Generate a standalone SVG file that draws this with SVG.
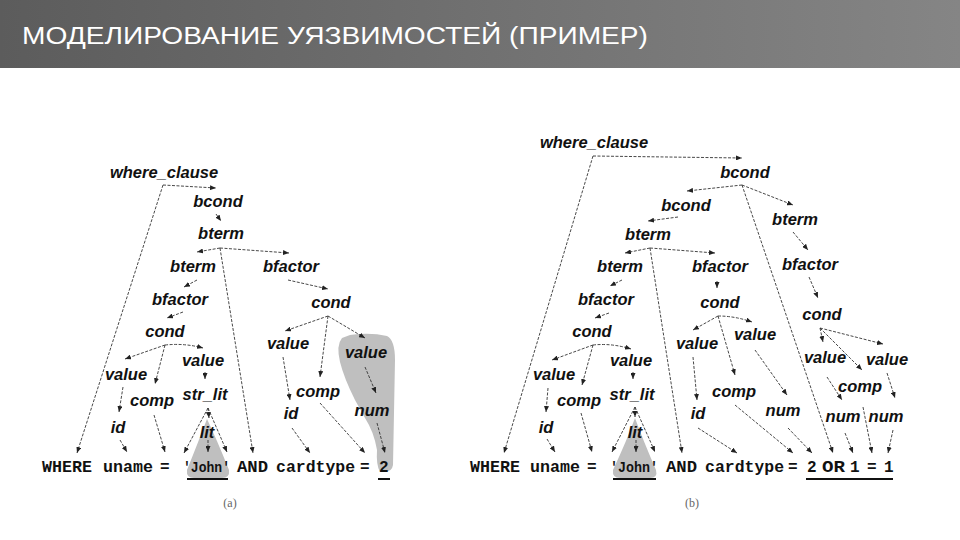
<svg xmlns="http://www.w3.org/2000/svg" width="960" height="540" viewBox="0 0 960 540">
<defs>
<linearGradient id="hdr" x1="0" y1="0" x2="1" y2="0">
<stop offset="0" stop-color="#5c5c5c"/>
<stop offset="1" stop-color="#858585"/>
</linearGradient>
<marker id="ah" markerUnits="userSpaceOnUse" markerWidth="6" markerHeight="5" refX="6" refY="2.5" orient="auto">
<path d="M0,0 L6,2.5 L0,5 z" fill="#222"/>
</marker>
<style>
.t{font-family:"Liberation Sans",Arial,sans-serif;font-weight:bold;font-style:italic;font-size:16.5px;fill:#111;text-anchor:middle}
.s{font-family:"Liberation Mono","Courier New",monospace;font-weight:bold;font-size:16px;fill:#111}
.j{font-family:"Liberation Mono","Courier New",monospace;font-weight:bold;font-size:15.5px;fill:#111}
.c{fill:none;stroke:#333;stroke-width:0.9;stroke-dasharray:3 1.5;marker-end:url(#ah)}
.u{stroke:#111;stroke-width:2}
.sh{fill:#bfbfbf}
.cap{font-family:"Liberation Serif","Times New Roman",serif;font-size:12px;fill:#666;text-anchor:middle}
</style>
</defs>
<rect width="960" height="540" fill="#fff"/>
<rect width="960" height="68" fill="url(#hdr)"/>
<text x="22" y="44" font-family="Liberation Sans, Arial, sans-serif" font-size="23" fill="#fff" textLength="626" lengthAdjust="spacingAndGlyphs">МОДЕЛИРОВАНИЕ УЯЗВИМОСТЕЙ (ПРИМЕР)</text>

<!-- shaded regions -->
<g id="shade">
<path class="sh" d="M207,419 Q199,440 187,470 Q186,478 194,478 L222,478 Q230,478 229,470 Q217,440 207,419 z"/>
<path class="sh" d="M350,335 Q370,332 387,336 Q395,340 395,360 L393,465 Q392,472 384,472 L380,472 Q376,465 377,450 Q374,432 365,418 L355,400 Q344,378 340,362 Q336,345 342,338 z"/>
<path class="sh" d="M635,418 Q627,440 613,470 Q612,478 620,478 L650,478 Q658,478 656,470 Q643,440 635,418 z"/>
</g>

<!-- connectors -->
<g id="connectors">
<!-- tree a -->
<path class="c" d="M163,185 L216,188"/>
<path class="c" d="M163,185 L77,453"/>
<path class="c" d="M216,214 L221,221"/>
<path class="c" d="M220,248 L197,252"/>
<path class="c" d="M220,248 L289,253"/>
<path class="c" d="M220,248 L253,453"/>
<path class="c" d="M197,280 L184,287"/>
<path class="c" d="M183,312 L167,318"/>
<path class="c" d="M165,345 L125,359"/>
<path class="c" d="M165,345 Q185,343 203,348"/>
<path class="c" d="M165,345 L155,384"/>
<path class="c" d="M123,387 L119,412"/>
<path class="c" d="M205,372 L205,379"/>
<path class="c" d="M208,408 L209,418"/>
<path class="c" d="M208,408 L184,453"/>
<path class="c" d="M208,408 L227,452"/>
<path class="c" d="M208,440 L208,452"/>
<path class="c" d="M120,440 L127,452"/>
<path class="c" d="M154,415 L165,452"/>
<path class="c" d="M288,280 L328,289"/>
<path class="c" d="M328,316 L285,331"/>
<path class="c" d="M328,316 L365,338"/>
<path class="c" d="M328,316 L320,377"/>
<path class="c" d="M283,357 L290,400"/>
<path class="c" d="M365,367 L376,393"/>
<path class="c" d="M377,423 L385,453"/>
<path class="c" d="M320,403 L365,453"/>
<path class="c" d="M292,428 L310,453"/>
<!-- tree b -->
<path class="c" d="M593,156 L742,158"/>
<path class="c" d="M593,156 L504,453"/>
<path class="c" d="M742,185 L687,191"/>
<path class="c" d="M742,185 L793,205"/>
<path class="c" d="M742,185 L833,453"/>
<path class="c" d="M678,217 L648,221"/>
<path class="c" d="M650,248 L625,253"/>
<path class="c" d="M650,248 L715,253"/>
<path class="c" d="M650,248 L682,453"/>
<path class="c" d="M622,280 L610,286"/>
<path class="c" d="M609,313 L595,318"/>
<path class="c" d="M717,281 L717,288"/>
<path class="c" d="M793,232 L808,250"/>
<path class="c" d="M809,277 L818,298"/>
<path class="c" d="M718,316 L693,330"/>
<path class="c" d="M718,316 Q735,316 752,322"/>
<path class="c" d="M718,316 L735,375"/>
<path class="c" d="M693,357 L697,400"/>
<path class="c" d="M755,350 L787,395"/>
<path class="c" d="M735,405 L793,453"/>
<path class="c" d="M698,428 L737,453"/>
<path class="c" d="M788,428 L812,453"/>
<path class="c" d="M820,328 L823,342"/>
<path class="c" d="M820,328 L883,344"/>
<path class="c" d="M820,328 L862,370"/>
<path class="c" d="M827,377 L842,400"/>
<path class="c" d="M887,373 L895,398"/>
<path class="c" d="M845,433 L853,453"/>
<path class="c" d="M863,407 L872,453"/>
<path class="c" d="M893,430 L888,453"/>
<path class="c" d="M593,345 L552,360"/>
<path class="c" d="M593,345 Q612,343 631,349"/>
<path class="c" d="M593,345 L582,385"/>
<path class="c" d="M548,388 L546,412"/>
<path class="c" d="M633,372 L633,379"/>
<path class="c" d="M635,407 L635,417"/>
<path class="c" d="M635,407 L612,452"/>
<path class="c" d="M635,407 L655,452"/>
<path class="c" d="M636,440 L636,452"/>
<path class="c" d="M547,439 L555,452"/>
<path class="c" d="M581,413 L592,452"/>
</g>

<!-- tree a nodes -->
<g id="a-where_clause"><text class="t" x="164" y="178">where_clause</text></g>
<g id="a-bcond"><text class="t" x="218" y="207">bcond</text></g>
<g id="a-bterm1"><text class="t" x="221" y="239">bterm</text></g>
<g id="a-bterm2"><text class="t" x="193" y="272">bterm</text></g>
<g id="a-bfactor1"><text class="t" x="180" y="305">bfactor</text></g>
<g id="a-cond1"><text class="t" x="165" y="337">cond</text></g>
<g id="a-value1"><text class="t" x="126" y="380">value</text></g>
<g id="a-value2"><text class="t" x="203" y="366">value</text></g>
<g id="a-comp1"><text class="t" x="152" y="406">comp</text></g>
<g id="a-str_lit"><text class="t" x="205" y="400">str_lit</text></g>
<g id="a-id1"><text class="t" x="118" y="433">id</text></g>
<g id="a-lit"><text class="t" x="207" y="438">lit</text></g>
<g id="a-bfactor2"><text class="t" x="291" y="272">bfactor</text></g>
<g id="a-cond2"><text class="t" x="331" y="308">cond</text></g>
<g id="a-value3"><text class="t" x="288" y="349">value</text></g>
<g id="a-value4"><text class="t" x="366" y="358">value</text></g>
<g id="a-comp2"><text class="t" x="318" y="397">comp</text></g>
<g id="a-id2"><text class="t" x="291" y="419">id</text></g>
<g id="a-num"><text class="t" x="372" y="416">num</text></g>

<g id="a-sentence">
<text class="s" x="42" y="472" textLength="50" lengthAdjust="spacingAndGlyphs">WHERE</text>
<text class="s" x="103" y="472" textLength="50" lengthAdjust="spacingAndGlyphs">uname</text>
<text class="s" x="160" y="472">=</text>
<text class="j" x="183" y="472" textLength="47" lengthAdjust="spacingAndGlyphs">'John'</text>
<text class="s" x="237" y="472" textLength="31" lengthAdjust="spacingAndGlyphs">AND</text>
<text class="s" x="276" y="472" textLength="79" lengthAdjust="spacingAndGlyphs">cardtype</text>
<text class="s" x="360" y="472">=</text>
<text class="s" x="379" y="472">2</text>
<line class="u" x1="187" y1="479" x2="228" y2="479"/>
<line class="u" x1="378" y1="479" x2="390" y2="479"/>
</g>
<text class="cap" x="230" y="507">(a)</text>

<!-- tree b nodes -->
<g id="b-where_clause"><text class="t" x="594" y="148">where_clause</text></g>
<g id="b-bcond1"><text class="t" x="745" y="178">bcond</text></g>
<g id="b-bcond2"><text class="t" x="686" y="211">bcond</text></g>
<g id="b-bterm3"><text class="t" x="795" y="225">bterm</text></g>
<g id="b-bterm1"><text class="t" x="648" y="240">bterm</text></g>
<g id="b-bterm2"><text class="t" x="620" y="272">bterm</text></g>
<g id="b-bfactor2"><text class="t" x="720" y="272">bfactor</text></g>
<g id="b-bfactor3"><text class="t" x="810" y="270">bfactor</text></g>
<g id="b-bfactor1"><text class="t" x="606" y="305">bfactor</text></g>
<g id="b-cond2"><text class="t" x="720" y="308">cond</text></g>
<g id="b-cond3"><text class="t" x="822" y="320">cond</text></g>
<g id="b-cond1"><text class="t" x="592" y="337">cond</text></g>
<g id="b-value3"><text class="t" x="697" y="349">value</text></g>
<g id="b-value4"><text class="t" x="755" y="340">value</text></g>
<g id="b-value5"><text class="t" x="825" y="363">value</text></g>
<g id="b-value6"><text class="t" x="887" y="365">value</text></g>
<g id="b-value1"><text class="t" x="554" y="380">value</text></g>
<g id="b-value2"><text class="t" x="631" y="366">value</text></g>
<g id="b-comp1"><text class="t" x="579" y="406">comp</text></g>
<g id="b-str_lit"><text class="t" x="632" y="400">str_lit</text></g>
<g id="b-comp2"><text class="t" x="734" y="397">comp</text></g>
<g id="b-comp3"><text class="t" x="860" y="392">comp</text></g>
<g id="b-num1"><text class="t" x="783" y="416">num</text></g>
<g id="b-num2"><text class="t" x="843" y="422">num</text></g>
<g id="b-num3"><text class="t" x="886" y="422">num</text></g>
<g id="b-id2"><text class="t" x="698" y="419">id</text></g>
<g id="b-id1"><text class="t" x="546" y="433">id</text></g>
<g id="b-lit"><text class="t" x="635" y="438">lit</text></g>

<g id="b-sentence">
<text class="s" x="470" y="472" textLength="50" lengthAdjust="spacingAndGlyphs">WHERE</text>
<text class="s" x="530" y="472" textLength="50" lengthAdjust="spacingAndGlyphs">uname</text>
<text class="s" x="587" y="472">=</text>
<text class="j" x="610" y="472" textLength="48" lengthAdjust="spacingAndGlyphs">'John'</text>
<text class="s" x="666" y="472" textLength="31" lengthAdjust="spacingAndGlyphs">AND</text>
<text class="s" x="705" y="472" textLength="79" lengthAdjust="spacingAndGlyphs">cardtype</text>
<text class="s" x="788" y="472">=</text>
<text class="s" x="807" y="472">2</text>
<text class="s" x="822" y="472" textLength="23" lengthAdjust="spacingAndGlyphs">OR</text>
<text class="s" x="850" y="472">1</text>
<text class="s" x="867" y="472">=</text>
<text class="s" x="884" y="472">1</text>
<line class="u" x1="613" y1="479" x2="656" y2="479"/>
<line class="u" x1="806" y1="479" x2="893" y2="479"/>
</g>
<text class="cap" x="692" y="507">(b)</text>
</svg>
